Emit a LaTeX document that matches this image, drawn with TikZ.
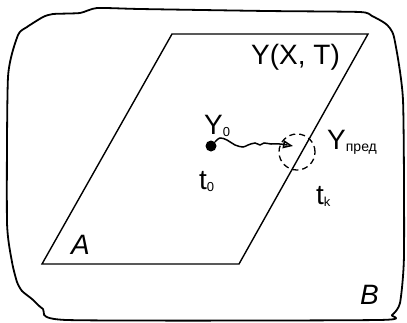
\documentclass[tikz,border=0pt]{standalone}
\usepackage{fontspec}
\setmainfont{Liberation Sans}
\usetikzlibrary{arrows.meta}

\newcommand{\subidx}[1]{\raisebox{-2pt}{\fontsize{13}{13}\selectfont #1}}

\begin{document}
\begin{tikzpicture}[x=1pt, y=-1pt,
  lbl/.style    = {inner sep=0pt, anchor=base west, font=\fontsize{28}{30}\selectfont},
  setname/.style= {inner sep=0pt, anchor=base west, font=\fontsize{28}{30}\selectfont\itshape},
  region/.style = {line width=1.8pt, line join=round},
  plane/.style  = {line width=1.4pt, line join=miter}
]
\useasboundingbox (0,0) rectangle (407,322);

%% Outer region B (freehand)
\draw[region] plot[smooth cycle, tension=0.35] coordinates {
  (8,77) (18,35) (27,27) (43,17) (53,14) (80,13) (97,8) (140,9)
  (267,11) (360,12) (372,16) (386,24) (394,37) (403,100) (404,255)
  (400,303) (392,315) (378,320) (67,320) (43,309) (32,299) (22,291)
  (17,282) (12,262) (7,222)};

%% Plane A
\coordinate (tl) at (172,34);
\coordinate (tr) at (368,34);
\coordinate (br) at (239,264);
\coordinate (bl) at (42,264);
\draw[plane] (tl) -- (tr) -- (br) -- (bl) -- cycle;

%% --- Labels ---
\node[lbl] (yxt)  at (251,64)  {Y(X, T)};
\node[lbl] (y0)   at (204,134) {Y\subidx{0}};
\node[lbl] (t0)   at (199,189) {t\subidx{0}};
\node[lbl] (ylim) at (327,149) {Y\raisebox{-2pt}{\fontsize{14}{14}\selectfont пред}};
\node[lbl] (tk)   at (316,204) {t\subidx{k}};
\node[setname] (setA) at (71,254)  {A};
\node[setname] (setB) at (360,304) {B};

%% --- Start point, limit neighbourhood, trajectory ---
\node[circle, fill, inner sep=0pt, minimum size=11pt] (start) at (211,146) {};
\node[circle, draw, dash pattern=on 6pt off 4pt, line width=1.3pt,
      minimum size=36pt, inner sep=0pt] (near) at (297,152) {};
\coordinate (ytip) at (293,146);
\draw[line width=1.5pt, -{Triangle[open, length=10pt, width=8pt]}]
  plot[smooth, tension=0.6] coordinates {(start.45) (220,138) (227,140)
  (235,145) (243,147) (248,145) (255,143) (260,145) (264,143) (271,144)
  (280,144) (ytip)};
\end{tikzpicture}
\end{document}
